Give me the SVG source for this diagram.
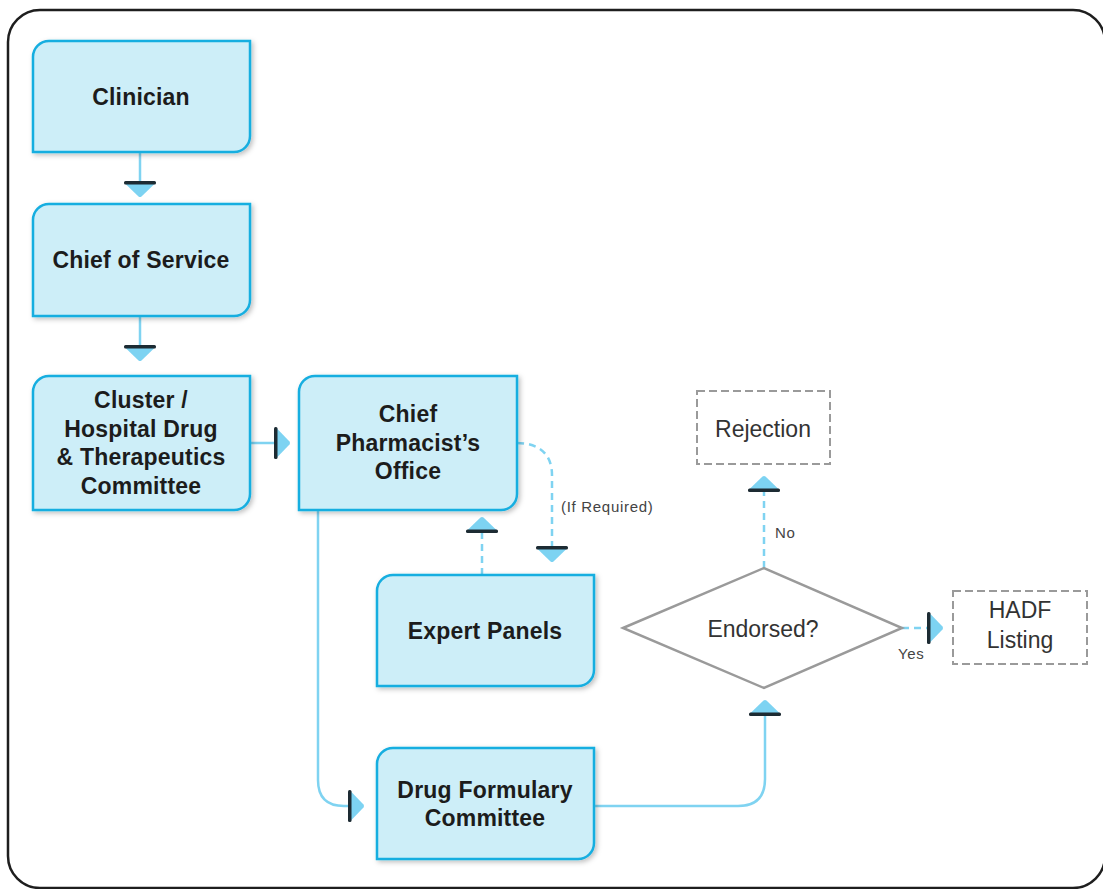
<svg xmlns="http://www.w3.org/2000/svg" width="1103" height="889" viewBox="0 0 1103 889">
<style>
.node{fill:#cdeef8;stroke:#17aee0;stroke-width:2.5;filter:url(#sh)}
.nt{font-family:"Liberation Sans",Arial,sans-serif;font-weight:bold;font-size:23px;fill:#1c1c1c;text-anchor:middle;letter-spacing:0.2px}
.lt{font-family:"Liberation Sans",Arial,sans-serif;font-size:23px;fill:#333;text-anchor:middle}
.sm{font-family:"Liberation Sans",Arial,sans-serif;font-size:15px;fill:#444;letter-spacing:0.7px}
.dbox{fill:#fff;stroke:#9a9a9a;stroke-width:2;stroke-dasharray:8 4}
.c{fill:none;stroke:#7fd3f1;stroke-width:2.5;marker-end:url(#ah)}
.d{stroke-dasharray:7 5}
</style>
<defs>
<filter id="sh" x="-10%" y="-10%" width="125%" height="125%">
<feDropShadow dx="2" dy="2" stdDeviation="2.5" flood-color="#000" flood-opacity="0.25"/>
</filter>
<marker id="ah" markerUnits="userSpaceOnUse" markerWidth="20" markerHeight="34" viewBox="0 -17 20 34" refX="0" refY="0" orient="auto" overflow="visible">
<path d="M1.5,-16 L15.5,-1.5 Q16.5,0 15.5,1.5 L1.5,16 Z" fill="#7dd3f2"/>
<rect x="0" y="-16" width="3.5" height="32" rx="1.5" fill="#1d2b33"/>
</marker>
</defs>
<rect x="8" y="10" width="1097" height="878" rx="32" fill="#fff" stroke="#1e1e1e" stroke-width="2.5"/>
<g id="connectors">
<path class="c" d="M140,153 V181"/>
<path class="c" d="M140,316 V345"/>
<path class="c" d="M250,443 H274"/>
<path class="c d" d="M517,443 C540,443 552,455 552,475 V546"/>
<path class="c d" d="M482,575 V533"/>
<path class="c" d="M318,510 V780 Q318,806 344,806 H348"/>
<path class="c" d="M594,806 H738 Q765,806 765,779 V716"/>
<path class="c d" d="M764,568 V492"/>
<path class="c d" d="M902,628 H927"/>
<text class="sm" x="561" y="512">(If Required)</text>
<text class="sm" x="775" y="538">No</text>
<text class="sm" x="898" y="659">Yes</text>
</g>
<g id="clinician">
<path class="node" d="M49,41 H250 V136 A16,16 0 0 1 234,152 H33 V57 A16,16 0 0 1 49,41 Z"/>
<text class="nt" x="141" y="105">Clinician</text>
</g>
<g id="chief-of-service">
<path class="node" d="M49,204 H250 V300 A16,16 0 0 1 234,316 H33 V220 A16,16 0 0 1 49,204 Z"/>
<text class="nt" x="141" y="268">Chief of Service</text>
</g>
<g id="cluster">
<path class="node" d="M49,376 H250 V494 A16,16 0 0 1 234,510 H33 V392 A16,16 0 0 1 49,376 Z"/>
<text class="nt" x="141" y="408">Cluster /</text>
<text class="nt" x="141" y="437">Hospital Drug</text>
<text class="nt" x="141" y="465">&amp; Therapeutics</text>
<text class="nt" x="141" y="494">Committee</text>
</g>
<g id="chief-pharmacist">
<path class="node" d="M315,376 H517 V494 A16,16 0 0 1 501,510 H299 V392 A16,16 0 0 1 315,376 Z"/>
<text class="nt" x="408" y="422">Chief</text>
<text class="nt" x="408" y="451">Pharmacist’s</text>
<text class="nt" x="408" y="479">Office</text>
</g>
<g id="expert-panels">
<path class="node" d="M393,575 H594 V670 A16,16 0 0 1 578,686 H377 V591 A16,16 0 0 1 393,575 Z"/>
<text class="nt" x="485" y="639">Expert Panels</text>
</g>
<g id="drug-formulary">
<path class="node" d="M393,748 H594 V843 A16,16 0 0 1 578,859 H377 V764 A16,16 0 0 1 393,748 Z"/>
<text class="nt" x="485" y="798">Drug Formulary</text>
<text class="nt" x="485" y="826">Committee</text>
</g>
<g id="rejection">
<rect class="dbox" x="697" y="391" width="133" height="73"/>
<text class="lt" x="763" y="437">Rejection</text>
</g>
<g id="endorsed">
<path d="M623,628 L764,568 L902,628 L764,688 Z" fill="#fff" stroke="#9a9a9a" stroke-width="2.5"/>
<text class="lt" x="763" y="637">Endorsed?</text>
</g>
<g id="hadf">
<rect class="dbox" x="953" y="591" width="134" height="73"/>
<text class="lt" x="1020" y="618">HADF</text>
<text class="lt" x="1020" y="648">Listing</text>
</g>
</svg>
